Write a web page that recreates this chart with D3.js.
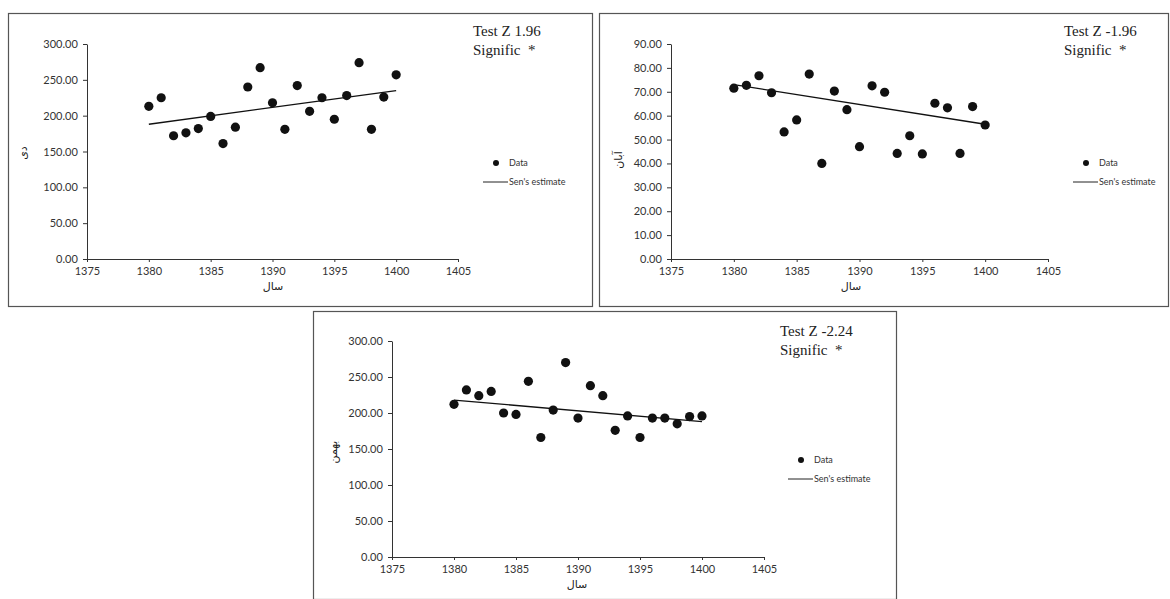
<!DOCTYPE html>
<html>
<head>
<meta charset="utf-8">
<script src="https://cdn.jsdelivr.net/npm/d3@7"></script>
<style>
  body { margin: 0; background: #fff; }
  svg { display: block; }
  .tick text { font-family: Lato, "Open Sans", sans-serif; fill: #333; }
</style>
</head>
<body>
<div id="container"></div>
<script>
// years on the x axis
const years = [1380, 1381, 1382, 1383, 1384, 1385, 1386, 1387, 1388, 1389, 1390,
  1391, 1392, 1393, 1394, 1395, 1396, 1397, 1398, 1399, 1400];
const xTicks = [1375, 1380, 1385, 1390, 1395, 1400, 1405];

// panel 1 (top left)
const dayValues = [213, 225, 172, 176, 182, 199, 161, 184, 240, 267, 218,
  181, 242, 206, 225, 195, 228, 274, 181, 226, 257];
const dayTrend = [188, 235];
const dayTicks = [0, 50, 100, 150, 200, 250, 300];

// panel 2 (top right)
const abanValues = [71.5, 72.7, 76.7, 69.6, 53.2, 58.2, 77.4, 40.0, 70.3, 62.5, 47.0,
  72.5, 69.8, 44.2, 51.6, 44.0, 65.2, 63.3, 44.2, 63.8, 56.1];
const abanTrend = [73, 56.4];
const abanTicks = [0, 10, 20, 30, 40, 50, 60, 70, 80, 90];

// panel 3 (bottom)
const bahmanValues = [212, 232, 224, 230, 200, 198, 244, 166, 204, 270, 193,
  238, 224, 176, 196, 166, 193, 193, 185, 195, 196];
const bahmanTrend = [218, 188];
const bahmanTicks = [0, 50, 100, 150, 200, 250, 300];

const width = 1170, height = 599;

const svg = d3.select('#container')
  .append('svg')
  .attr('width', width)
  .attr('height', height);

const panels = [
  {
    box: [8, 13, 592, 306],
    values: dayValues, trend: dayTrend, ticks: dayTicks,
    xRange: [87, 458], yRange: [259, 44],
    yLabel: 'دی', yLabelPos: [27, 153],
    xLabelPos: [273, 290],
    z: 'Test Z 1.96', zPos: [473, 36],
    legendPos: [496, 163]
  },
  {
    box: [599, 13, 1168, 306],
    values: abanValues, trend: abanTrend, ticks: abanTicks,
    xRange: [671, 1048], yRange: [259, 44],
    yLabel: 'آبان', yLabelPos: [622, 160],
    xLabelPos: [851, 290],
    z: 'Test Z -1.96', zPos: [1064, 36],
    legendPos: [1086, 163]
  },
  {
    box: [313, 311, 896, 599],
    values: bahmanValues, trend: bahmanTrend, ticks: bahmanTicks,
    xRange: [392, 764], yRange: [557, 341],
    yLabel: 'بهمن', yLabelPos: [337, 452],
    xLabelPos: [577, 588],
    z: 'Test Z -2.24', zPos: [780, 336],
    legendPos: [801, 460]
  }
];

panels.forEach((p) => {
  const g = svg.append('g');

  // panel frame
  g.append('rect')
    .attr('x', p.box[0] + 0.5)
    .attr('y', p.box[1] + 0.5)
    .attr('width', p.box[2] - p.box[0])
    .attr('height', p.box[3] - p.box[1])
    .attr('fill', 'none')
    .attr('stroke', '#555')
    .attr('stroke-width', 1.2);

  const x = d3.scaleLinear().domain([1375, 1405]).range(p.xRange);
  const yMax = p.ticks[p.ticks.length - 1];
  const y = d3.scaleLinear().domain([0, yMax]).range(p.yRange);

  // y axis
  g.append('g')
    .attr('transform', `translate(${p.xRange[0]},0)`)
    .call(d3.axisLeft(y).tickValues(p.ticks).tickSize(4).tickSizeOuter(0)
      .tickFormat(d3.format('.2f')))
    .call((a) => a.selectAll('text').attr('font-size', 11).attr('dx', '-0.2em'))
    .call((a) => a.selectAll('line,path').attr('stroke', '#333'));

  // x axis
  g.append('g')
    .attr('transform', `translate(0,${p.yRange[0]})`)
    .call(d3.axisBottom(x).tickValues(xTicks).tickSize(3).tickSizeOuter(0)
      .tickFormat(d3.format('d')))
    .call((a) => a.selectAll('text').attr('font-size', 11).attr('dy', '0.9em'))
    .call((a) => a.selectAll('line,path').attr('stroke', '#333'));

  // axis titles
  g.append('text')
    .attr('transform', `translate(${p.yLabelPos[0]},${p.yLabelPos[1]}) rotate(-90)`)
    .attr('text-anchor', 'middle')
    .attr('font-family', '"Noto Sans", "DejaVu Sans", sans-serif')
    .attr('font-size', 11)
    .attr('fill', '#222')
    .text(p.yLabel);

  g.append('text')
    .attr('x', p.xLabelPos[0])
    .attr('y', p.xLabelPos[1])
    .attr('text-anchor', 'middle')
    .attr('font-family', '"Noto Sans", "DejaVu Sans", sans-serif')
    .attr('font-size', 11)
    .attr('fill', '#222')
    .text('سال');

  // Sen's estimate line
  const line = d3.line().x((d) => x(d[0])).y((d) => y(d[1]));
  g.append('path')
    .datum([[years[0], p.trend[0]], [years[years.length - 1], p.trend[1]]])
    .attr('fill', 'none')
    .attr('stroke', '#111')
    .attr('stroke-width', 1.3)
    .attr('d', line);

  // data points
  g.selectAll('circle.pt')
    .data(p.values)
    .join('circle')
    .attr('class', 'pt')
    .attr('cx', (d, i) => x(years[i]))
    .attr('cy', (d) => y(d))
    .attr('r', 4.6)
    .attr('fill', '#111');

  // Z statistic text
  const zt = g.append('text')
    .attr('x', p.zPos[0])
    .attr('y', p.zPos[1])
    .attr('font-family', '"Liberation Serif", "DejaVu Serif", serif')
    .attr('font-size', 15)
    .attr('fill', '#222')
    .attr('xml:space', 'preserve');
  zt.append('tspan').text(p.z);
  zt.append('tspan').attr('x', p.zPos[0]).attr('dy', 19).text('Signific  *');

  // legend
  const lg = g.append('g')
    .attr('font-family', 'Lato, "Open Sans", sans-serif')
    .attr('font-size', 9)
    .attr('fill', '#333');
  lg.append('circle')
    .attr('cx', p.legendPos[0])
    .attr('cy', p.legendPos[1])
    .attr('r', 3)
    .attr('fill', '#111');
  lg.append('text')
    .attr('x', p.legendPos[0] + 13)
    .attr('y', p.legendPos[1] + 3)
    .text('Data');
  lg.append('line')
    .attr('x1', p.legendPos[0] - 13)
    .attr('x2', p.legendPos[0] + 12)
    .attr('y1', p.legendPos[1] + 19)
    .attr('y2', p.legendPos[1] + 19)
    .attr('stroke', '#222')
    .attr('stroke-width', 1);
  lg.append('text')
    .attr('x', p.legendPos[0] + 13)
    .attr('y', p.legendPos[1] + 22)
    .text("Sen's estimate");
});
</script>
</body>
</html>
